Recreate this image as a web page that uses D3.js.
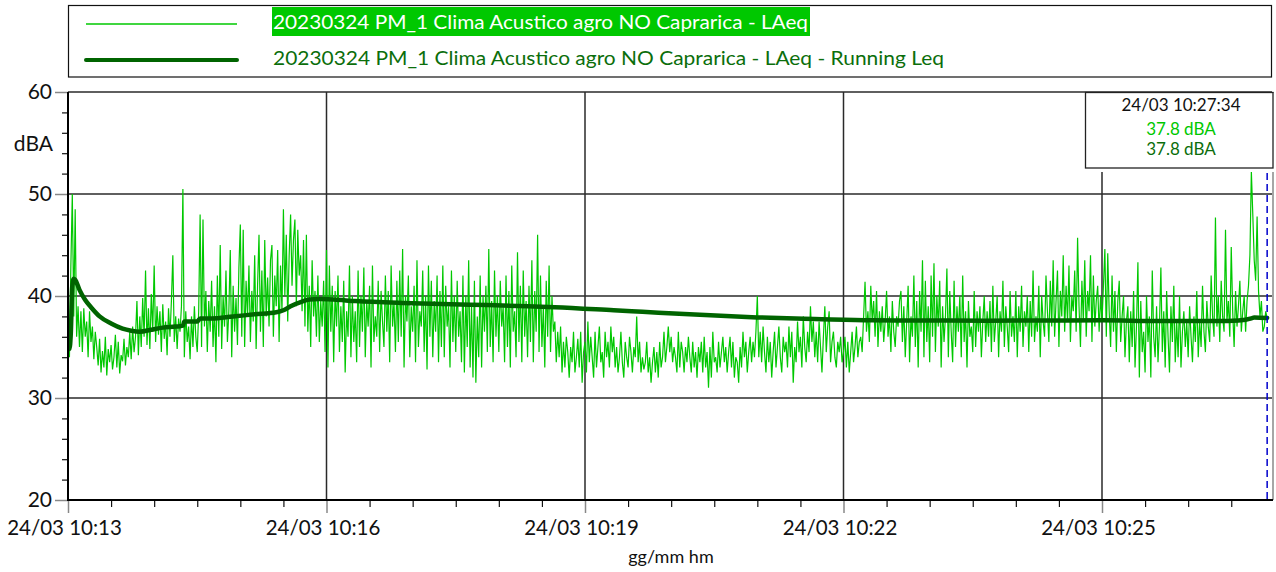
<!DOCTYPE html>
<html><head><meta charset="utf-8">
<script src="https://cdn.jsdelivr.net/npm/d3@7/dist/d3.min.js"></script>
<style>html,body{margin:0;padding:0;background:#fff;}svg{display:block;font-family:Lato,"Open Sans",sans-serif;}</style>
</head><body>
<svg id="chart" width="1276" height="572"></svg>
<script>
// ---------------- data ----------------
const seriesNames = ["20230324 PM_1 Clima Acustico agro NO Caprarica - LAeq",
                     "20230324 PM_1 Clima Acustico agro NO Caprarica - LAeq - Running Leq"];
const sampleStepSec = 1;
const laeq = [
35.5,34.0,43.0,50.0,38.0,48.5,36.0,39.0,35.0,38.5,34.5,38.8,36.0,37.5,34.0,38.5,35.5,37.0,33.8,36.5,
35.0,33.2,35.8,32.5,34.6,33.0,36.0,32.2,34.8,33.5,35.2,32.8,34.0,36.2,33.0,35.5,32.4,34.2,33.6,35.8,
33.2,35.0,34.0,36.5,33.8,37.0,34.5,36.0,39.5,34.2,38.0,35.0,39.8,36.0,42.5,35.2,38.8,34.8,40.2,36.5,
43.0,35.5,39.0,36.2,38.5,34.5,39.2,35.8,37.5,34.2,38.8,36.0,39.5,44.0,35.5,38.0,34.8,37.8,36.5,39.0,
50.5,34.0,38.5,35.5,37.0,33.8,38.0,35.0,39.0,36.0,34.5,38.5,48.0,35.0,47.5,37.0,40.5,34.5,39.5,36.5,
41.5,35.0,39.0,33.5,42.0,36.0,45.0,34.8,40.0,37.0,42.5,35.5,38.5,44.5,34.0,41.0,36.5,39.8,35.2,42.8,
47.0,36.0,46.5,35.0,41.5,38.0,43.0,35.5,40.5,37.5,44.0,34.8,41.0,46.0,36.5,42.5,35.0,45.5,38.0,41.8,
37.0,43.5,45.0,36.0,42.0,39.0,44.5,35.5,43.0,38.5,48.5,40.0,46.0,37.5,44.0,48.0,41.0,45.5,47.5,39.0,
46.5,42.0,44.0,38.5,45.5,37.0,46.0,36.5,41.0,35.0,43.5,38.0,40.5,36.0,42.0,35.5,39.5,37.0,41.5,34.5,
44.5,33.0,43.0,36.5,41.0,33.5,40.5,37.0,42.0,34.5,39.0,35.5,41.5,32.5,38.5,36.0,43.0,34.0,40.0,35.5,
38.5,33.5,42.5,35.0,40.0,36.5,42.8,34.0,39.5,37.0,41.0,33.0,43.0,35.5,38.0,36.0,41.5,34.5,40.5,37.5,
35.0,42.0,36.5,40.5,33.5,43.0,37.0,39.5,34.5,41.5,35.5,42.5,36.0,44.6,33.0,40.0,37.5,42.0,34.0,39.0,
36.5,41.0,33.5,43.5,35.0,38.5,37.0,42.5,34.5,40.0,32.8,43.0,36.0,41.5,34.0,39.5,36.5,42.0,33.5,40.5,
35.0,43.0,34.0,41.0,37.0,39.0,33.0,42.5,35.5,40.0,34.5,41.5,36.0,38.5,33.5,42.0,32.5,40.0,35.0,43.5,
33.0,39.0,32.0,41.5,31.5,38.0,34.0,42.0,33.0,40.0,36.5,41.0,34.5,44.6,35.0,39.5,33.5,42.5,36.0,40.0,
34.5,41.5,37.0,39.0,33.5,42.0,35.0,40.5,33.0,43.0,36.5,38.5,34.0,44.3,35.5,41.0,33.5,42.5,36.0,39.5,
34.0,41.0,35.5,43.5,33.5,40.5,36.5,46.0,34.5,42.0,35.0,39.0,33.0,41.5,36.0,43.0,34.5,40.0,36.5,37.5,
33.5,36.5,34.0,37.0,32.5,35.5,33.0,36.0,34.5,32.0,35.0,33.5,36.5,32.5,34.0,35.8,33.0,36.5,31.5,34.5,
35.5,32.5,37.5,33.5,36.0,34.0,32.0,36.5,33.0,35.0,37.0,33.5,34.5,32.0,36.5,34.0,35.5,33.0,37.0,34.5,
36.0,33.0,35.0,32.5,34.0,36.5,33.5,32.0,35.5,34.0,33.0,36.0,34.5,32.5,35.0,34.0,38.0,33.5,35.5,32.5,
34.0,32.8,33.5,35.5,32.5,34.0,31.5,33.5,35.0,32.5,34.5,32.0,35.5,33.0,34.0,36.5,33.5,35.0,37.0,34.5,
36.0,33.5,35.0,34.0,32.5,36.5,33.0,35.5,34.5,32.5,35.0,33.5,36.0,34.0,32.5,35.5,33.0,34.5,32.0,35.0,
33.5,35.5,32.5,36.0,33.0,34.5,31.0,35.0,32.0,36.5,33.5,34.0,32.5,35.5,33.0,34.5,36.0,33.5,35.0,32.5,
34.5,36.0,33.0,35.5,32.0,34.0,33.5,31.5,35.0,33.0,36.5,34.0,35.5,32.5,34.5,36.0,33.5,35.5,34.0,36.5,
40.0,34.0,36.5,33.5,37.0,34.5,32.5,36.0,33.5,35.5,32.0,34.5,36.5,33.0,35.0,37.0,34.0,32.5,36.0,34.5,
35.5,33.0,37.0,34.0,36.5,31.5,35.0,33.5,37.5,34.5,36.0,33.0,38.0,35.0,33.5,36.5,34.5,39.0,35.5,37.5,
34.0,36.5,33.5,37.5,35.0,32.5,36.0,39.0,34.5,37.0,38.5,33.5,35.5,36.5,34.0,33.0,35.5,34.5,36.0,33.5,
34.5,36.0,33.0,35.5,32.5,34.5,36.5,33.5,35.0,37.0,34.0,35.5,36.0,34.5,38.0,41.4,36.5,38.5,35.5,41.0,
37.5,39.5,36.0,40.5,35.0,38.5,36.5,39.0,35.5,37.5,40.5,36.0,38.0,34.5,39.5,36.5,35.0,38.0,37.0,39.5,
40.5,35.5,39.0,34.0,37.5,41.0,33.5,38.0,36.0,42.0,35.0,39.5,33.0,40.5,36.5,43.5,34.0,41.5,35.5,39.0,
33.5,42.0,36.0,43.2,34.5,40.0,37.0,41.5,33.0,39.0,35.5,38.0,42.7,34.0,40.5,36.5,33.5,41.5,35.0,39.0,
36.5,40.0,34.0,42.0,35.5,38.5,33.0,39.5,36.0,37.0,34.5,40.5,35.0,38.5,36.5,39.0,34.0,37.5,40.0,35.5,
38.5,36.0,39.5,34.5,41.0,35.5,37.5,40.0,34.0,38.5,36.5,41.5,35.0,39.0,37.0,34.5,40.5,36.0,38.0,35.5,
40.5,34.0,39.0,36.5,41.0,35.0,38.5,37.0,40.0,34.5,39.5,36.0,42.5,35.5,38.0,36.5,41.0,34.0,40.0,37.5,
36.0,42.0,38.5,35.5,41.5,37.0,43.5,36.0,39.5,42.5,35.0,40.5,38.0,44.0,36.5,41.0,37.5,43.0,35.5,40.0,
38.5,42.5,36.5,45.7,39.0,35.0,41.5,37.5,43.5,36.0,40.5,38.5,44.0,35.5,42.0,37.0,39.5,41.0,36.5,40.0,
37.5,41.0,44.6,36.0,44.2,38.5,35.0,42.0,36.5,40.5,34.5,39.5,41.5,35.5,38.0,40.0,34.0,37.5,39.0,33.5,
38.5,35.0,40.5,33.0,37.0,43.3,32.0,39.5,34.5,36.5,32.5,40.0,35.5,38.0,32.0,42.5,36.0,34.0,39.0,33.5,
37.0,42.8,34.5,38.5,33.0,40.5,36.0,32.5,39.0,35.5,41.0,33.5,37.5,34.0,40.0,33.0,36.5,38.5,35.0,37.5,
34.0,39.0,36.0,33.5,38.0,35.5,40.5,34.0,37.5,35.0,41.0,36.5,34.5,39.5,37.0,35.5,42.0,38.0,36.0,47.7,
37.0,40.0,35.5,41.5,38.0,36.5,46.5,37.5,39.5,36.0,44.8,38.5,35.0,40.5,37.0,39.0,41.5,36.5,38.5,40.0,
36.5,39.5,41.0,44.0,52.2,48.0,43.5,41.5,47.8,40.5,38.0,39.5,36.5,37.0,38.5,37.8
];
const runSec = [0,1,2,3,4,5,8,12,16,22,30,38,44,50,58,66,75,80,81,90,92,100,115,130,145,150,155,162,168,175,185,200,240,280,320,339,380,400,440,480,520,560,600,640,680,720,760,800,815,824,826,835];
const runVal = [35.5,34.8,36.5,41.0,41.7,41.6,40.6,39.6,38.9,38.0,37.3,36.8,36.6,36.5,36.7,36.9,37.0,37.1,37.5,37.5,37.8,37.8,38.0,38.2,38.4,38.6,39.0,39.4,39.65,39.7,39.65,39.5,39.3,39.15,39.0,38.9,38.6,38.45,38.15,37.9,37.75,37.62,37.6,37.58,37.6,37.62,37.55,37.55,37.6,37.8,37.9,37.85];
const xTickSec = [0,180,360,540,720];
const xTickLabels = ["24/03 10:13","24/03 10:16","24/03 10:19","24/03 10:22","24/03 10:25"];
const yTicks = [20,30,40,50,60];
const xAxisTitle = "gg/mm hm";
const yAxisTitle = "dBA";
const cursorSec = 835;
const cursorTime = "24/03 10:27:34";
const cursorValues = ["37.8 dBA","37.8 dBA"];

// ---------------- layout ----------------
const L = 68, R = 1272, T = 92, B = 500;
const colLight = "#00c800", colDark = "#006400", colDarkText = "#0b6e0b";
const svg = d3.select("#chart");
const x = d3.scaleLinear().domain([0, (R - L) / ((1102 - 68) / 720)]).range([L, R]);
const y = d3.scaleLinear().domain([20, 60]).range([B, T]);

// grid
const g = svg.append("g");
g.selectAll(".hg").data(yTicks.slice(1)).join("line")
  .attr("x1", L).attr("x2", R).attr("y1", d => y(d)).attr("y2", d => y(d))
  .attr("stroke", "#2a2a2a").attr("stroke-width", 1.5);
g.selectAll(".vg").data(xTickSec.slice(1)).join("line")
  .attr("x1", d => x(d)).attr("x2", d => x(d)).attr("y1", T).attr("y2", B)
  .attr("stroke", "#2a2a2a").attr("stroke-width", 1.5);
// right border
g.append("line").attr("x1", R + 1).attr("x2", R + 1).attr("y1", T).attr("y2", B)
  .attr("stroke", "#888").attr("stroke-width", 1.5);

// clip
svg.append("clipPath").attr("id", "clip").append("rect")
  .attr("x", L).attr("y", T - 2).attr("width", R - L).attr("height", B - T + 2);

const plot = svg.append("g").attr("clip-path", "url(#clip)");
plot.append("path").datum(laeq)
  .attr("fill", "none").attr("stroke", colLight).attr("stroke-width", 1.2)
  .attr("d", d3.line().x((d, i) => x(i * sampleStepSec)).y(d => y(d)));
plot.append("path").datum(runSec.map((s, i) => [s, runVal[i]]))
  .attr("fill", "none").attr("stroke", colDark).attr("stroke-width", 4.5)
  .attr("stroke-linejoin", "round").attr("stroke-linecap", "round")
  .attr("d", d3.line().x(d => x(d[0])).y(d => y(d[1])).curve(d3.curveMonotoneX));

// cursor
svg.append("line").attr("x1", x(cursorSec)).attr("x2", x(cursorSec)).attr("y1", 173).attr("y2", B)
  .attr("stroke", "#0000cc").attr("stroke-width", 1.5).attr("stroke-dasharray", "7,4");

// axes
const yAxis = d3.axisLeft(y).tickValues(yTicks).tickSize(13).tickPadding(3);
const ya = svg.append("g").attr("transform", `translate(${L},0)`).call(yAxis);
ya.select(".domain").remove();
ya.selectAll(".tick line").attr("stroke", "#888").attr("stroke-width", 1.5);
ya.selectAll(".tick text").attr("font-size", 21).attr("fill", "#111").attr("font-family", "Lato, 'Open Sans', sans-serif");
const yMinor = d3.axisLeft(y).tickValues(d3.range(22, 60, 2).filter(v => v % 10 !== 0)).tickSize(6).tickFormat("");
const ym = svg.append("g").attr("transform", `translate(${L},0)`).call(yMinor);
ym.select(".domain").remove();
ym.selectAll(".tick line").attr("stroke", "#111").attr("stroke-width", 1.2);

const xAxis = d3.axisBottom(x).tickValues(xTickSec).tickSize(13).tickPadding(7)
  .tickFormat((d, i) => xTickLabels[i]);
const xa = svg.append("g").attr("transform", `translate(0,${B})`).call(xAxis);
xa.select(".domain").remove();
xa.selectAll(".tick line").attr("stroke", "#888").attr("stroke-width", 1.5);
xa.selectAll(".tick text").attr("font-size", 20.5).attr("fill", "#111").attr("dx", -4)
  .attr("font-family", "Lato, 'Open Sans', sans-serif");
const minorSec = d3.range(30, x.domain()[1], 30).filter(s => s % 180 !== 0);
const xMinor = d3.axisBottom(x).tickValues(minorSec).tickSize(7).tickFormat("");
const xm = svg.append("g").attr("transform", `translate(0,${B})`).call(xMinor);
xm.select(".domain").remove();
xm.selectAll(".tick line").attr("stroke", "#111").attr("stroke-width", 1.2);

// axis lines
svg.append("line").attr("x1", L).attr("x2", L).attr("y1", T).attr("y2", B + 1).attr("stroke", "#000").attr("stroke-width", 2);
svg.append("line").attr("x1", L).attr("x2", R + 1).attr("y1", B).attr("y2", B).attr("stroke", "#000").attr("stroke-width", 2);

svg.append("text").attr("x", 53).attr("y", 151).attr("text-anchor", "end")
  .attr("font-size", 21).attr("fill", "#111").text(yAxisTitle);
svg.append("text").attr("x", (L + R) / 2 + 1).attr("y", 563).attr("text-anchor", "middle")
  .attr("font-size", 18).attr("fill", "#111").text(xAxisTitle);

// cursor box
svg.append("rect").attr("x", 1086).attr("y", 93).attr("width", 188).attr("height", 79).attr("fill", "#fff");
svg.append("rect").attr("x", 1085.5).attr("y", 92.5).attr("width", 187.5).attr("height", 75.5)
  .attr("fill", "#fff").attr("stroke", "#222").attr("stroke-width", 1.3);
const cx = 1181;
svg.append("text").attr("x", cx).attr("y", 111).attr("text-anchor", "middle").attr("font-size", 17).attr("fill", "#111").text(cursorTime);
svg.append("text").attr("x", cx).attr("y", 135).attr("text-anchor", "middle").attr("font-size", 17).attr("fill", colLight).text(cursorValues[0]);
svg.append("text").attr("x", cx).attr("y", 155).attr("text-anchor", "middle").attr("font-size", 17).attr("fill", colDarkText).text(cursorValues[1]);

// legend
svg.append("rect").attr("x", 68.5).attr("y", 5.5).attr("width", 1203).attr("height", 71.5)
  .attr("fill", "#fff").attr("stroke", "#111").attr("stroke-width", 1.2);
svg.append("line").attr("x1", 86).attr("x2", 237).attr("y1", 24).attr("y2", 24).attr("stroke", colLight).attr("stroke-width", 1.3);
svg.append("line").attr("x1", 86).attr("x2", 237).attr("y1", 60).attr("y2", 60).attr("stroke", colDark).attr("stroke-width", 4).attr("stroke-linecap", "round");
svg.append("rect").attr("x", 272).attr("y", 7).attr("width", 538).attr("height", 29).attr("fill", colLight);
svg.append("text").attr("x", 273).attr("y", 29).attr("font-size", 19.5).attr("fill", "#fff")
  .attr("textLength", 535).attr("lengthAdjust", "spacingAndGlyphs").text(seriesNames[0]);
svg.append("text").attr("x", 273).attr("y", 65).attr("font-size", 19.5).attr("fill", colDarkText)
  .attr("textLength", 671).attr("lengthAdjust", "spacingAndGlyphs").text(seriesNames[1]);
</script>
</body></html>
